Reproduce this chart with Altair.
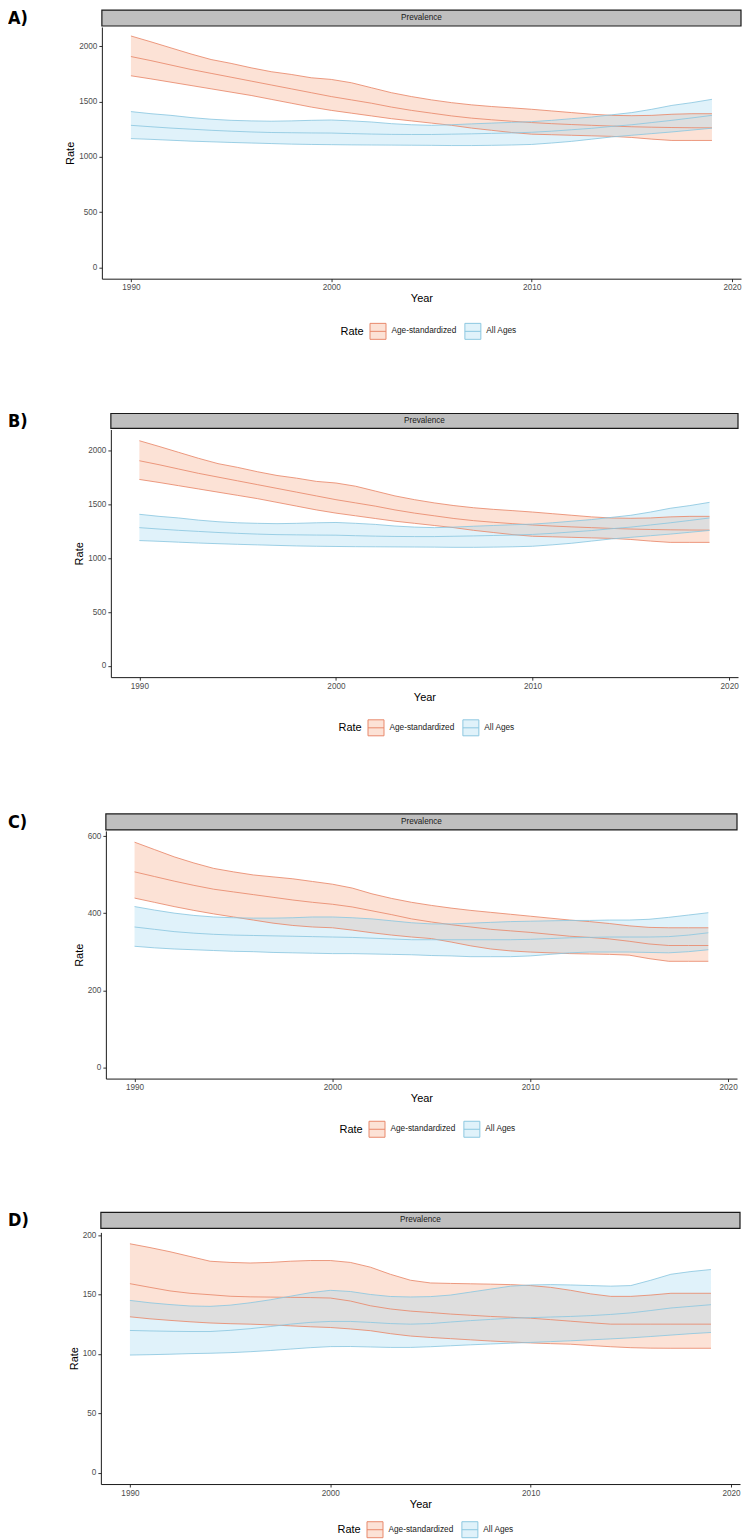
import altair as alt
import pandas as pd

years = list(range(1990, 2020))
series_names = ["Age-standardized", "All Ages"]

# ---- Panels A and B (same data) ----
ab_as_hi = [2093, 2040, 1985, 1930, 1880, 1845, 1805, 1770, 1745, 1715,
            1700, 1670, 1625, 1580, 1545, 1515, 1490, 1470, 1455, 1443,
            1430, 1415, 1400, 1385, 1375, 1372, 1375, 1385, 1390, 1390]
ab_as_mid = [1907, 1870, 1830, 1790, 1755, 1720, 1685, 1650, 1615, 1580,
             1545, 1515, 1485, 1450, 1420, 1395, 1370, 1350, 1335, 1322,
             1310, 1300, 1292, 1285, 1278, 1272, 1268, 1265, 1263, 1262]
ab_as_lo = [1733, 1705, 1675, 1645, 1615, 1585, 1555, 1520, 1485, 1450,
            1420, 1395, 1370, 1345, 1325, 1305, 1285, 1260, 1240, 1220,
            1205, 1200, 1195, 1190, 1185, 1175, 1160, 1148, 1148, 1148]
ab_all_hi = [1409, 1390, 1375, 1355, 1340, 1330, 1325, 1322, 1325, 1330,
             1333, 1325, 1315, 1300, 1290, 1285, 1290, 1298, 1305, 1312,
             1318, 1330, 1345, 1360, 1380, 1400, 1430, 1465, 1490, 1520]
ab_all_mid = [1285, 1272, 1260, 1250, 1240, 1232, 1225, 1220, 1218, 1216,
              1215, 1210, 1206, 1203, 1202, 1202, 1205, 1208, 1212, 1216,
              1222, 1232, 1245, 1258, 1275, 1290, 1310, 1330, 1352, 1375]
ab_all_lo = [1165, 1158, 1150, 1142, 1136, 1130, 1125, 1120, 1115, 1112,
             1110, 1108, 1107, 1106, 1105, 1104, 1102, 1102, 1104, 1107,
             1112, 1125, 1140, 1160, 1180, 1195, 1210, 1225, 1242, 1259]

# ---- Panel C ----
c_as_hi = [584, 565, 546, 530, 516, 507, 499, 494, 489, 482,
           475, 465, 450, 438, 428, 420, 413, 407, 402, 397,
           392, 387, 382, 378, 373, 367, 363, 362, 362, 362]
c_as_mid = [507, 495, 483, 472, 462, 455, 448, 441, 434, 428,
            423, 416, 406, 396, 385, 377, 370, 364, 358, 354,
            350, 345, 340, 337, 333, 327, 320, 316, 316, 316]
c_as_lo = [439, 428, 417, 407, 398, 390, 382, 374, 368, 364,
           362, 356, 349, 343, 338, 334, 325, 315, 307, 302,
           299, 297, 295, 294, 293, 291, 282, 275, 275, 275]
c_all_hi = [417, 408, 400, 394, 390, 388, 387, 387, 388, 390,
            390, 388, 385, 380, 375, 372, 372, 374, 376, 378,
            379, 380, 381, 381, 382, 382, 384, 389, 395, 401]
c_all_mid = [364, 358, 352, 348, 345, 343, 342, 341, 340, 339,
             338, 337, 335, 333, 331, 331, 331, 331, 331, 331,
             332, 334, 336, 337, 338, 338, 338, 339, 343, 349]
c_all_lo = [314, 310, 307, 305, 303, 301, 300, 298, 297, 296,
            295, 295, 294, 293, 292, 290, 289, 287, 287, 287,
            289, 293, 297, 299, 299, 299, 298, 297, 300, 305]

# ---- Panel D ----
d_as_hi = [192.7, 189.5, 186, 182, 178, 177, 176.5, 177, 178, 178.6,
           178.6, 177, 173, 167, 162, 159.7, 159.3, 159, 158.7, 158.3,
           157.5, 156, 153.5, 150.5, 148.4, 148.4, 149.5, 151, 151, 151]
d_as_mid = [159.1, 156, 153, 151, 149.8, 148.5, 148, 147.8, 147.6, 147.4,
            147, 144.5, 140.5, 137.8, 136, 134.8, 133.5, 132.5, 131.5, 130.8,
            130, 128.8, 127.5, 126.2, 125, 125, 125, 125, 125, 125]
d_as_lo = [131.2, 129.5, 128.2, 127, 126, 125.4, 125, 124.4, 123.6, 122.8,
           122.2, 121, 119.5, 117, 115, 113.8, 112.8, 111.8, 110.8, 110,
           109.2, 108.6, 108.1, 107, 106, 105.2, 104.8, 104.7, 104.7, 104.7]
d_all_hi = [145, 143, 141.5, 140.3, 140, 141, 143, 145.5, 148.5, 151.5,
            153.5, 152.5, 150, 148.3, 147.9, 148.2, 149.5, 152, 154.5, 157,
            158, 158.3, 158, 157.5, 157, 157.5, 162, 167, 169.3, 171]
d_all_mid = [119.7, 119.3, 119, 118.8, 118.8, 119.8, 121.2, 123, 125, 126.5,
             127.3, 127.3, 126.5, 125.5, 125, 125.5, 126.8, 128, 129, 130,
             130.5, 131, 131.5, 132.2, 133.2, 134.5, 136.5, 138.6, 140, 141.4]
d_all_lo = [99, 99.3, 99.7, 100.2, 100.5, 101, 101.8, 102.8, 104, 105.2,
            106.1, 106.2, 105.8, 105.4, 105.4, 106, 106.8, 107.6, 108.3, 109,
            109.6, 110.3, 111, 111.8, 112.6, 113.5, 114.6, 115.8, 117, 118]

x_ticks = [1990, 2000, 2010, 2020]
ab_ticks = [0, 500, 1000, 1500, 2000]
c_ticks = [0, 200, 400, 600]
d_ticks = [0, 50, 100, 150, 200]

FILL_AS = "#FCE2D6"
FILL_ALL = "rgba(158,214,239,0.32)"
LINE_AS = "#E8896B"
LINE_ALL = "#8DC8E0"
FONT = "Liberation Sans"
TAG_FONT = "Liberation Sans Narrow, DejaVu Sans Condensed, sans-serif"
KEY_PATH = "M-1,-1H1V1H-1Z M-1,0H1"


def make_df(as_lo, as_mid, as_hi, all_lo, all_mid, all_hi):
    recs = []
    for name, lo, mid, hi in [(series_names[0], as_lo, as_mid, as_hi),
                              (series_names[1], all_lo, all_mid, all_hi)]:
        for y, l, m, h in zip(years, lo, mid, hi):
            recs.append({"Year": y, "Rate": name, "lo": l, "val": m, "hi": h})
    return pd.DataFrame(recs)


def legend(lx, ly):
    return alt.Legend(title="Rate", orient="none", legendX=lx, legendY=ly,
                      direction="horizontal", titleOrient="left",
                      symbolType=KEY_PATH, symbolSize=256, symbolStrokeWidth=1,
                      labelOffset=5, columnPadding=5, titlePadding=5, padding=0,
                      titleAnchor="middle", titleBaseline="middle")


def plot(df, w, h, ydom, yticks, lx, ly):
    xs = alt.Scale(domain=[1988.55, 2020.45], nice=False, zero=False)
    ys = alt.Scale(domain=ydom, nice=False, zero=False)
    xa = alt.Axis(values=x_ticks, format="d", title="Year", labelFlush=False, titlePadding=2)
    ya = alt.Axis(values=yticks, format="d", title="Rate", titlePadding=3)
    lg = legend(lx, ly)
    fill = alt.Fill("Rate:N", scale=alt.Scale(domain=series_names, range=[FILL_AS, FILL_ALL]), legend=lg)
    stroke = alt.Stroke("Rate:N", scale=alt.Scale(domain=series_names, range=[LINE_AS, LINE_ALL]), legend=lg)
    area = alt.Chart(df).mark_area().encode(
        x=alt.X("Year:Q", scale=xs, axis=xa),
        y=alt.Y("lo:Q", scale=ys, axis=ya),
        y2="hi:Q",
        fill=fill,
    )
    lines = alt.Chart(df).transform_fold(["lo", "val", "hi"], as_=["bound", "v"]).mark_line(strokeWidth=0.85).encode(
        x=alt.X("Year:Q", scale=xs, axis=xa),
        y=alt.Y("v:Q", scale=ys, axis=ya),
        stroke=stroke,
        detail="bound:N",
    )
    return alt.layer(area, lines).properties(width=w, height=h)


def strip(w, sh):
    d = pd.DataFrame({"label": ["Prevalence"]})
    box = alt.Chart(d).mark_rect(fill="#BFBFBF", stroke="#1A1A1A", strokeWidth=1.2).encode(
        x=alt.value(0), x2=alt.value(w), y=alt.value(0), y2=alt.value(sh))
    txt = alt.Chart(d).mark_text(font=FONT, fontSize=8.2, color="#1A1A1A", baseline="middle", align="center").encode(
        x=alt.value(w / 2), y=alt.value(sh / 2), text="label:N")
    return alt.layer(box, txt).properties(width=w, height=sh)


def tag(t, k, hh):
    d = pd.DataFrame({"tag": [t]})
    return alt.Chart(d).mark_text(font=TAG_FONT, fontWeight="bold", fontSize=18, align="left",
                                  baseline="top", color="black").encode(
        x=alt.value(0), y=alt.value(0), text="tag:N").properties(width=k, height=hh)


RES = dict(fill="independent", stroke="independent")


def row(t, k, hh, df, w, h, sh, ydom, yticks, lx, ly):
    panel = alt.vconcat(strip(w, sh), plot(df, w, h, ydom, yticks, lx, ly), spacing=0)
    panel = panel.resolve_scale(**RES).resolve_legend(**RES)
    r = alt.hconcat(tag(t, k, hh), panel, spacing=0)
    return r.resolve_scale(**RES).resolve_legend(**RES)


df_ab = make_df(ab_as_lo, ab_as_mid, ab_as_hi, ab_all_lo, ab_all_mid, ab_all_hi)
df_c = make_df(c_as_lo, c_as_mid, c_as_hi, c_all_lo, c_all_mid, c_all_hi)
df_d = make_df(d_as_lo, d_as_mid, d_as_hi, d_all_lo, d_all_mid, d_all_hi)

rA = row("A)", 56, 403, df_ab, 640, 252, 16, [-102, 2174], ab_ticks, 239, 296)
rB = row("B)", 65, 400, df_ab, 628, 248, 15, [-104.65, 2197.65], ab_ticks, 228, 290)
rC = row("C)", 65, 398, df_c, 632, 248, 16, [-29.2, 613.2], c_ticks, 234, 290)
rD = row("D)", 60, 20, df_d, 640, 252, 16, [-9.635, 202.3], d_ticks, 237, 289)

chart = alt.vconcat(rA, rB, rC, rD, spacing=0).resolve_scale(**RES).resolve_legend(**RES).properties(
    padding=0, background="white"
).configure_view(strokeWidth=0).configure_axis(
    labelFont=FONT, labelFontSize=8.2, labelColor="#4D4D4D", labelPadding=2,
    titleFont=FONT, titleFontSize=11, titleFontWeight="normal", titleColor="black",
    domainColor="#1A1A1A", domainWidth=1, tickColor="#333333", tickSize=3, tickWidth=1,
    grid=False,
).configure_legend(
    titleFont=FONT, titleFontSize=11, titleFontWeight="normal", titleColor="black",
    labelFont=FONT, labelFontSize=8.3, labelColor="#1A1A1A",
)

chart.save("out.html", embed_options={"renderer": "svg", "actions": False})
